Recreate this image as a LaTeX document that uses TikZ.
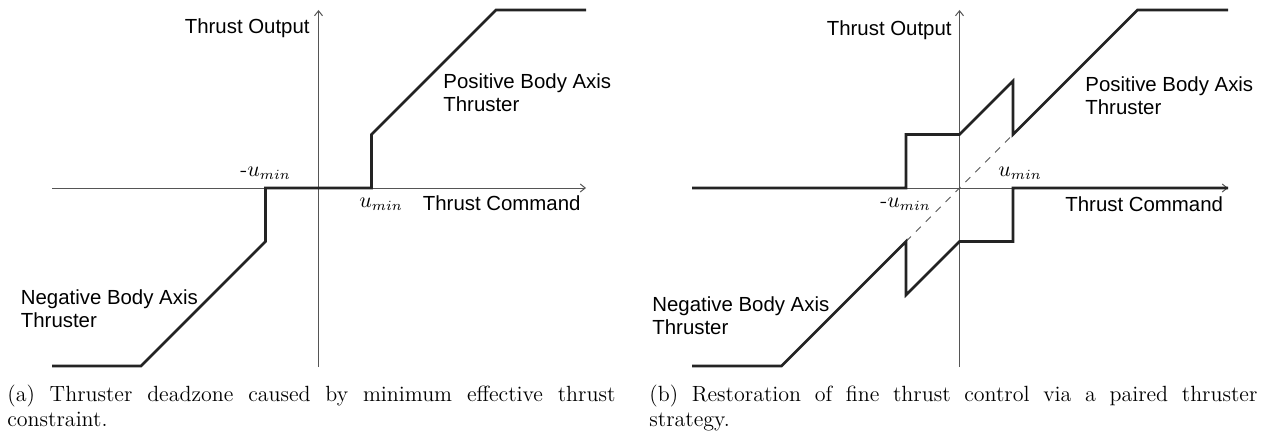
\documentclass[tikz,border=0pt]{standalone}
\usepackage{fontspec}
\newfontfamily\labelfont{Liberation Sans}
\usepackage{tikz}
\usetikzlibrary{arrows.meta}
\definecolor{axisgray}{HTML}{555555}
\definecolor{curvegray}{HTML}{232323}
\newcommand{\capfont}{\fontsize{11}{12.5}\selectfont\hyphenpenalty 10000\relax}

\begin{document}
\begin{tikzpicture}[
    x=0.5pt, y=-0.5pt,
    axis/.style={draw=axisgray, line width=0.5pt, ->},
    curve/.style={draw=curvegray, line width=1.3pt, line join=miter},
    ghost/.style={draw=axisgray, line width=0.5pt, dash pattern=on 3.5pt off 3.5pt},
    lbl/.style={font=\labelfont\fontsize{10.2}{11.5}\selectfont, inner sep=0pt, align=left},
    mth/.style={font=\fontsize{10.5}{12}\selectfont, inner sep=0pt},
    captext/.style={font=\capfont, inner sep=0pt, text width=304pt, align=justify},
    >={Straight Barb[length=2.5pt,width=4pt]}
  ]
    \useasboundingbox (0,0) rectangle (1273,433);

    % (a) deadzone
    \draw[axis] (52,188) -- (586,188);
    \draw[axis] (318.5,367) -- (318.5,10);
    \draw[curve] (52,366) -- (141,366) -- (265.5,241.5) -- (265.5,188)
      -- (371.5,188) -- (371.5,134.5) -- (496,10) -- (586,10);

    \node[lbl, anchor=base east] (outA) at (310,33.5) {Thrust Output};
    \node[lbl, anchor=north west] (posA) at (443,73) {Positive Body Axis\\Thruster};
    \node[lbl, anchor=north west] (cmdA) at (422.5,195) {Thrust Command};
    \node[lbl, anchor=north west] (negA) at (20.5,289) {Negative Body Axis\\Thruster};
    \node[mth, anchor=base west] (nuA) at (240,176) {-$u_{min}$};
    \node[mth, anchor=base west] (puA) at (359,207.5) {$u_{min}$};

    % (b) paired thrusters
    \draw[axis] (692,188) -- (1228,188);
    \draw[axis] (959.5,367) -- (959.5,10);
    \draw[ghost] (906,241.5) -- (1013,134.5);
    \draw[curve] (692,188) -- (906,188) -- (906,134.5) -- (959.5,134.5)
      -- (1013,81) -- (1013,134.5) -- (1137.5,10) -- (1228,10);
    \draw[curve] (1228,188) -- (1013,188) -- (1013,241.5) -- (959.5,241.5)
      -- (906,295) -- (906,241.5) -- (781.5,366) -- (692,366);

    \node[lbl, anchor=base east] (outB) at (952,36) {Thrust Output};
    \node[lbl, anchor=north west] (posB) at (1085,76) {Positive Body Axis\\Thruster};
    \node[lbl, anchor=north west] (cmdB) at (1065,196) {Thrust Command};
    \node[lbl, anchor=north west] (negB) at (652,296.5) {Negative Body Axis\\Thruster};
    \node[mth, anchor=base west] (puB) at (998,176) {$u_{min}$};
    \node[mth, anchor=base west] (nuB) at (880,207.5) {-$u_{min}$};

    \node[captext, anchor=base west] (capA) at (7,401)
      {(a) Thruster deadzone caused by minimum effective thrust constraint.};
    \node[captext, anchor=base west] (capB) at (649,401)
      {(b) Restoration of fine thrust control via a paired thruster strategy.};
  \end{tikzpicture}
\end{document}
